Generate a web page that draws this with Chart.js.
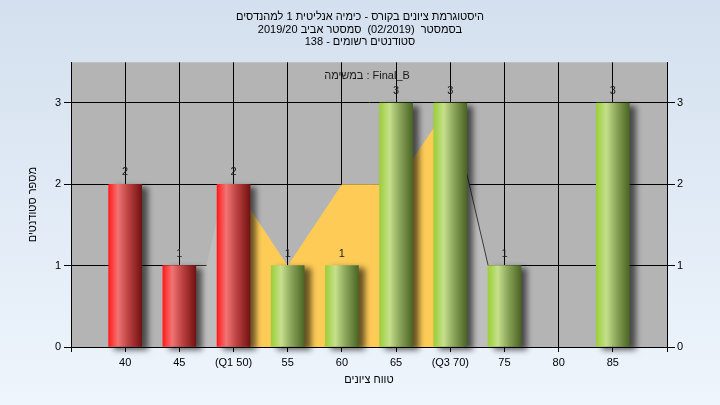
<!DOCTYPE html>
<html><head><meta charset="utf-8">
<script src="https://cdn.jsdelivr.net/npm/chart.js@4"></script>
<style>
html,body{margin:0;padding:0;}
body{width:720px;height:405px;background:linear-gradient(to bottom,#D4E0EF,#EEF5FC);overflow:hidden}
</style></head><body>
<canvas id="c" width="720" height="405"></canvas>
<script>
// ---- data ----
const titleLines = [
  'היסטוגרמת ציונים בקורס - כימיה אנליטית 1 למהנדסים',
  'בסמסטר  (02/2019)  סמסטר אביב 2019/20',
  'סטודנטים רשומים - 138'
];
const taskLabel = 'במשימה : Final_B';
const yAxisTitle = 'מספר סטודנטים';
const xAxisTitle = 'טווח ציונים';
const grades = [40, 45, 50, 55, 60, 65, 70, 75, 80, 85];
const counts = [2, 1, 2, 1, 1, 3, 3, 1, 0, 3];
const gradeLabels = ['40', '45', '(Q1 50)', '55', '60', '65', '(Q3 70)', '75', '80', '85'];
const q1 = 50, q3 = 70;
const iqrGrades = [50, 55, 60, 65, 70];
const iqrValues = [2, 1, 2, 2, 3];
const lowTailGrades = [45, 47.5, 49.2, 50];
const lowTailValues = [1, 1, 2, 2];
const highTailGrades = [70, 73.5, 75];
const highTailValues = [3, 1, 1];
const yTicks = [0, 1, 2, 3];

// ---- styling ----
const FONT = '"Liberation Sans", Arial, sans-serif';
const FS = 11;
const BAR_W = 33;
const STEP = 5;
const xMin = grades[0] - STEP, xMax = grades[grades.length - 1] + STEP;
const xTickValues = [xMin, ...grades, xMax];

function barGradient(c) {
  const chart = c.chart;
  const xs = chart.scales && chart.scales.x;
  if (!xs || !c.raw) return '#888';
  if (!c.raw.y) return 'rgba(0,0,0,0)';
  const cx = xs.getPixelForValue(c.raw.x);
  if (!isFinite(cx)) return c.raw.x <= q1 ? '#C04040' : '#8CA65C';
  const g = chart.ctx.createLinearGradient(cx - BAR_W / 2, 0, cx + BAR_W / 2, 0);
  if (c.raw.x <= q1) {
    g.addColorStop(0, '#FF1A1A');
    g.addColorStop(0.08, '#FF3535');
    g.addColorStop(0.28, '#F07474');
    g.addColorStop(0.6, '#BB4040');
    g.addColorStop(1, '#731212');
  } else {
    g.addColorStop(0, '#9DCF3A');
    g.addColorStop(0.08, '#A6D34E');
    g.addColorStop(0.3, '#C6E08C');
    g.addColorStop(0.6, '#8CA65C');
    g.addColorStop(1, '#4B6623');
  }
  return g;
}

const plotBg = {
  id: 'plotBg',
  beforeDraw(chart) {
    const { ctx, chartArea: a } = chart;
    ctx.save();
    ctx.fillStyle = '#B4B4B4';
    ctx.fillRect(a.left, a.top, a.right - a.left, a.bottom - a.top);
    ctx.restore();
  }
};

const barShadow = {
  id: 'barShadow',
  beforeDatasetDraw(chart, args) {
    if (chart.data.datasets[args.index].type !== 'bar') return;
    const ctx = chart.ctx;
    ctx.save();
    ctx.shadowColor = 'rgba(0,0,0,0.6)';
    ctx.shadowBlur = 6;
    ctx.shadowOffsetX = 6;
    ctx.shadowOffsetY = 3;
  },
  afterDatasetDraw(chart, args) {
    if (chart.data.datasets[args.index].type !== 'bar') return;
    chart.ctx.restore();
  }
};

const labels = {
  id: 'labels',
  afterDatasetsDraw(chart) {
    const { ctx, scales: { x, y }, chartArea: a } = chart;
    ctx.save();
    ctx.font = FS + 'px ' + FONT;
    ctx.fillStyle = '#1a1a1a';
    ctx.textAlign = 'center';
    ctx.textBaseline = 'middle';
    grades.forEach((g, i) => {
      if (counts[i] > 0) ctx.fillText(String(counts[i]), x.getPixelForValue(g), y.getPixelForValue(counts[i]) - 12);
    });
    ctx.fillText(taskLabel, (a.left + a.right) / 2 - 2, a.top + 14);
    ctx.restore();
  }
};

const toPts = (xs, ys) => xs.map((g, i) => ({ x: g, y: ys[i] }));
const tickFont = { family: FONT, size: FS };

new Chart(document.getElementById('c'), {
  type: 'bar',
  data: {
    datasets: [
      {
        type: 'bar',
        data: toPts(grades, counts),
        backgroundColor: barGradient,
        borderWidth: 0,
        barThickness: BAR_W,
        clip: false,
        order: 0
      },
      {
        type: 'line',
        data: toPts(iqrGrades, iqrValues),
        fill: 'origin',
        backgroundColor: '#FECB57',
        borderWidth: 0,
        pointRadius: 0,
        tension: 0,
        order: 2
      },
      {
        type: 'line',
        data: toPts(lowTailGrades, lowTailValues),
        fill: 'origin',
        backgroundColor: '#BEBEBE',
        borderWidth: 0,
        pointRadius: 0,
        tension: 0,
        order: 3
      },
      {
        type: 'line',
        data: toPts(highTailGrades, highTailValues),
        fill: 'origin',
        backgroundColor: '#BEBEBE',
        borderColor: '#3a3a3a',
        borderWidth: 1,
        pointRadius: 0,
        tension: 0,
        order: 3
      }
    ]
  },
  options: {
    responsive: false,
    animation: false,
    devicePixelRatio: 1,
    layout: { padding: 0 },
    plugins: {
      legend: { display: false },
      tooltip: { enabled: false },
      title: {
        display: true,
        text: titleLines,
        color: '#000',
        font: { family: FONT, size: FS, weight: 'normal', lineHeight: 1.13 },
        padding: { top: 11, bottom: 14 }
      }
    },
    scales: {
      x: {
        type: 'linear',
        min: xMin, max: xMax,
        offset: false,
        afterBuildTicks: s => { s.ticks = xTickValues.map(v => ({ value: v })); },
        ticks: {
          autoSkip: false, maxRotation: 0, color: '#000', font: tickFont, padding: 4,
          callback: v => { const i = grades.indexOf(v); return i < 0 ? '' : gradeLabels[i]; }
        },
        grid: { color: '#000', lineWidth: 1, tickLength: 5, offset: false },
        border: { color: '#000' },
        title: { display: true, text: xAxisTitle, color: '#000', font: tickFont, padding: { top: 0, bottom: 18 } },
        afterFit: s => { s.height = 58; }
      },
      y: {
        position: 'left',
        min: 0, max: 3.5,
        afterBuildTicks: s => { s.ticks = yTicks.map(v => ({ value: v })); },
        ticks: { color: '#000', padding: 3, font: tickFont },
        grid: { color: '#000', tickLength: 7 },
        border: { color: '#000' },
        title: { display: true, text: yAxisTitle, color: '#000', font: tickFont, padding: { top: 26, bottom: 0 } },
        afterFit: s => { s.width = 71; }
      },
      y2: {
        position: 'right',
        min: 0, max: 3.5,
        afterBuildTicks: s => { s.ticks = yTicks.map(v => ({ value: v })); },
        ticks: { color: '#000', padding: 2, font: tickFont },
        grid: { drawOnChartArea: false, color: '#000', tickLength: 8 },
        border: { color: '#000' },
        afterFit: s => { s.width = 53; }
      }
    }
  },
  plugins: [plotBg, barShadow, labels]
});
</script>
</body></html>
